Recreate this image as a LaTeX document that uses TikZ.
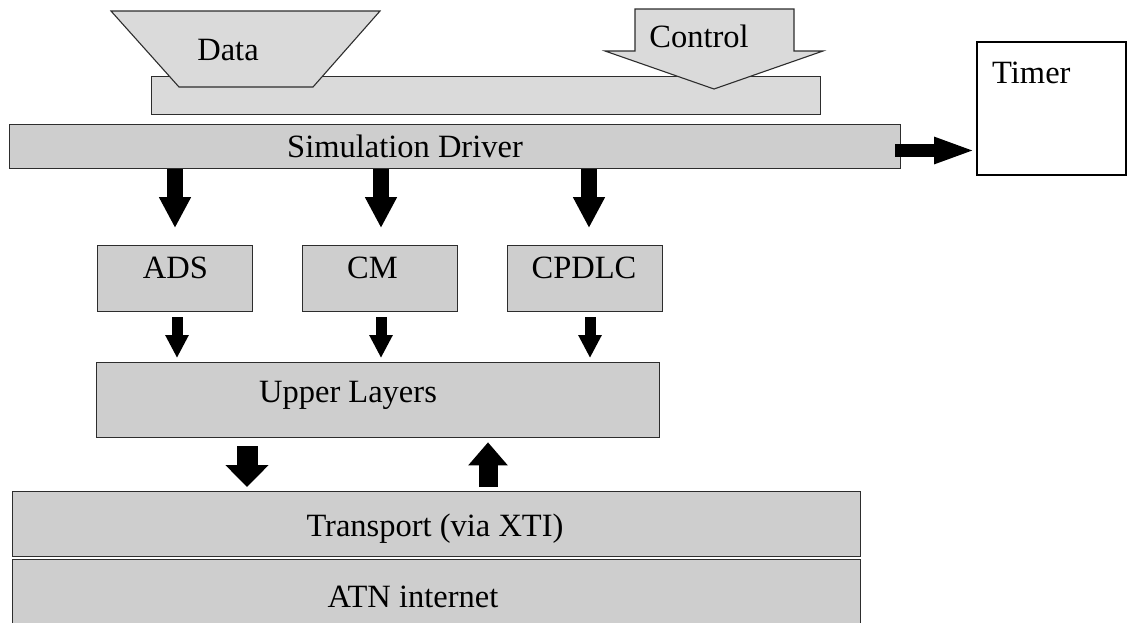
\documentclass[tikz,border=0pt]{standalone}
\usepackage{fontspec}
\setmainfont{Liberation Serif}
\usetikzlibrary{arrows.meta,calc}
\definecolor{boxgray}{RGB}{206,206,206}
\definecolor{lightfill}{RGB}{218,218,218}
\definecolor{edgegray}{RGB}{45,45,45}
\begin{document}
\begin{tikzpicture}[x=1pt,y=-1pt,
  box/.style={draw=edgegray, fill=boxgray, line width=1.3pt, inner sep=0pt, anchor=north west},
  lightbox/.style={box, fill=lightfill},
  shapefill/.style={draw=edgegray, fill=lightfill, line width=1.1pt, line join=miter},
  lbl/.style={font=\fontsize{32.5}{36}\selectfont, inner sep=0pt, anchor=base},
  bigarrow/.style={line width=16pt, -{Triangle[length=31pt,width=30pt]}, shorten >=17pt},
  smallarrow/.style={line width=11pt, -{Triangle[length=23pt,width=22pt]}, shorten <=5pt, shorten >=4pt},
  downarrow/.style={line width=21pt, -{Triangle[length=22pt,width=42pt]}, shorten <=8pt, shorten >=4pt},
  uparrow/.style={line width=19pt, -{Triangle[length=23pt,width=38pt]}, shorten <=4pt, shorten >=4pt},
  timerarrow/.style={line width=13pt, -{Triangle[length=42pt,width=24pt]}, shorten <=-6pt}
]
\fill[white] (0,0) rectangle (1127,622);
\useasboundingbox (0,0) rectangle (1127,622);

% top input layer
\node[lightbox, minimum width=669pt, minimum height=38pt] (inbar) at (151,76) {};
\draw[shapefill] (111,11) -- (380,11) -- (313,87) -- (179,87) -- cycle;
\node[lbl] (data) at (228,60) {Data};
\draw[shapefill] (635,9) -- (794,9) -- (794,51) -- (823,51) -- (714,89) -- (605,51) -- (635,51) -- cycle;
\node[lbl] (control) at (699,47) {Control};

% simulation driver
\node[box, minimum width=891pt, minimum height=44pt] (sd) at (9,124) {};
\node[lbl] (sdt) at (405,157) {Simulation Driver};

% timer
\node[draw=black, fill=white, line width=2.2pt, inner sep=0pt, anchor=north west,
      minimum width=149pt, minimum height=133pt] (timer) at (976,41) {};
\node[lbl, anchor=base west] (timert) at (992,83) {Timer};

% applications
\node[box, minimum width=155pt, minimum height=66pt] (ads) at (97,245) {};
\node[lbl] (adst) at (175.5,278) {ADS};
\node[box, minimum width=155pt, minimum height=66pt] (cm) at (302,245) {};
\node[lbl] (cmt) at (372.5,278) {CM};
\node[box, minimum width=155pt, minimum height=66pt] (cpdlc) at (507,245) {};
\node[lbl] (cpdlct) at (584,278) {CPDLC};

% upper layers
\node[box, minimum width=563pt, minimum height=75pt] (ul) at (96,362) {};
\node[lbl] (ult) at (348,402) {Upper Layers};

% transport and ATN
\node[box, minimum width=848pt, minimum height=65pt] (tr) at (12,491) {};
\node[lbl] (trt) at (435,536) {Transport (via XTI)};
\node[box, minimum width=848pt, minimum height=66pt] (atn) at (12,559) {};
\node[lbl] (atnt) at (413,607) {ATN internet};

% arrow columns
\coordinate (xa) at (175,0);
\coordinate (xb) at (381,0);
\coordinate (xc) at (589,0);
\coordinate (sa) at (177,0);
\coordinate (sb) at (381,0);
\coordinate (sc) at (590,0);
\coordinate (xd) at (247,0);
\coordinate (xu) at (488,0);
\coordinate (yt) at (0,150.5);

\draw[bigarrow] (sd.south -| xa) -- (ads.north -| xa);
\draw[bigarrow] (sd.south -| xb) -- (cm.north -| xb);
\draw[bigarrow] (sd.south -| xc) -- (cpdlc.north -| xc);

\draw[smallarrow] (ads.south -| sa) -- (ul.north -| sa);
\draw[smallarrow] (cm.south -| sb) -- (ul.north -| sb);
\draw[smallarrow] (cpdlc.south -| sc) -- (ul.north -| sc);

\draw[downarrow] (ul.south -| xd) -- (tr.north -| xd);
\draw[uparrow] (tr.north -| xu) -- (ul.south -| xu);

\draw[timerarrow] (sd.east |- yt) -- (timer.west |- yt);
\end{tikzpicture}
\end{document}
